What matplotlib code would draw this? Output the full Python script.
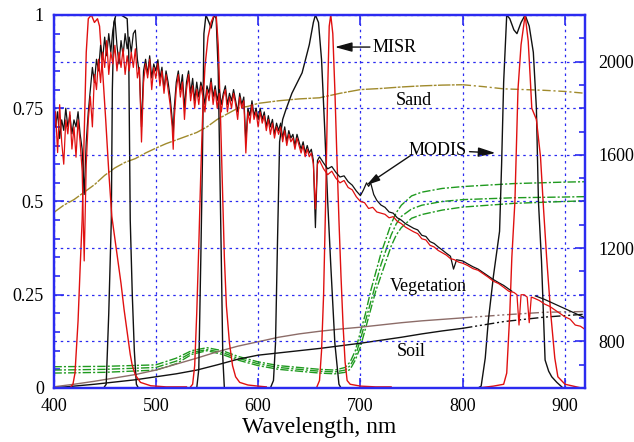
import matplotlib.pyplot as plt
from matplotlib.ticker import MultipleLocator

plt.rcParams['font.family'] = ['Liberation Serif', 'DejaVu Serif']

BLUE = '#2b2bf0'
RED = '#e01010'
BLACK = '#111111'
GREEN = '#1f9a1f'
OLIVE = '#a08a2c'
BROWN = '#8c6c68'

# solar irradiance seen through the two instruments (right axis)
sun_wl_a = [400, 402, 404, 406, 408, 410, 412, 414, 416, 418, 420, 422, 424, 426, 428, 430,
            432, 434, 436, 438, 440, 442, 444, 446, 448, 450, 452, 454, 456, 458, 460, 462,
            464, 466, 468, 470, 472, 474, 476, 478, 480, 482, 484, 486, 488, 490, 492, 494,
            496, 498]
sun_wl_b = [500, 502, 504, 506, 508, 510, 512, 514, 516, 517, 518, 520, 522, 524, 526, 528,
            530, 532, 534, 536, 538, 540, 542, 544, 546, 548, 550, 552, 554, 556, 558, 560,
            562, 564, 566, 568, 570, 572, 574, 576, 578, 580, 582, 584, 586, 588, 590, 592,
            594, 596, 598, 600, 602, 604, 606, 608, 610, 612, 614, 616, 618, 620, 622, 624,
            626, 628, 630, 632, 634, 636, 638, 640, 642, 644, 646, 648, 650, 652, 654, 656,
            658, 660]

misr_sun_a = [1655, 1785, 1610, 1815, 1655, 1560, 1750, 1690, 1785, 1625, 1720, 1590, 1750, 1655, 1530, 1145,
              1560, 1750, 1850, 1720, 1945, 1880, 2010, 1910, 2040, 1975, 2090, 1945, 2040, 1990, 2070, 1960,
              2040, 1975, 2055, 1945, 2025, 1960, 2040, 1975, 2055, 1930, 1975, 1655, 1910, 1990, 1930, 2010,
              1880, 1975]
misr_sun_b = [1928, 1992, 1896, 1960, 1864, 1944, 1880, 1816, 1720, 1624, 1752, 1880, 1944, 1848, 1912, 1752,
              1880, 1944, 1832, 1896, 1800, 1880, 1816, 1896, 1848, 1784, 1880, 1832, 1912, 1816, 1880, 1800,
              1864, 1784, 1848, 1880, 1784, 1848, 1800, 1864, 1816, 1752, 1848, 1800, 1832, 1608, 1784, 1736,
              1816, 1752, 1784, 1720, 1784, 1736, 1768, 1704, 1752, 1688, 1736, 1672, 1720, 1688, 1720, 1656,
              1704, 1640, 1688, 1656, 1672, 1624, 1672, 1640, 1608, 1640, 1592, 1624, 1592, 1608, 1560, 1368,
              1560, 1576]
misr_sun_wl_c = [664, 668, 672, 676, 680, 684, 688, 692, 696, 700, 704, 708, 712, 716, 720, 724,
                 728, 732, 736, 740, 744, 748, 752, 756, 760, 764, 768, 772, 776, 780, 784, 788,
                 792, 796, 800, 805, 810, 815, 820, 825, 830, 835, 840, 845, 850, 853, 855, 857,
                 860, 863, 865, 867, 870, 875, 880, 885, 890, 895, 900, 905, 910, 915, 920]
misr_sun_c = [1540, 1515, 1530, 1500, 1480, 1490, 1460, 1450, 1420, 1400, 1395, 1370, 1375, 1355, 1350, 1345,
              1330, 1335, 1315, 1305, 1290, 1280, 1270, 1262, 1240, 1235, 1212, 1205, 1190, 1180, 1170, 1155,
              1150, 1140, 1135, 1125, 1112, 1105, 1090, 1075, 1058, 1048, 1032, 1015, 1010, 1000, 870, 1000,
              1000, 990, 880, 990, 985, 975, 960, 950, 935, 920, 905, 895, 870, 865, 850]

modis_sun_a = [1880, 1720, 1785, 1670, 1750, 1705, 1800, 1720, 1770, 1690, 1750, 1720, 1785, 1690, 1625, 1430,
               1655, 1785, 1880, 1975, 1910, 2010, 1960, 2070, 2010, 2105, 2025, 2120, 2040, 2135, 2185, 2070,
               1990, 2090, 2025, 2120, 2055, 2105, 2040, 2120, 2135, 2010, 1945, 1720, 1960, 2010, 1945, 2025,
               1930, 1990]
modis_sun_b = [1960, 2008, 1928, 1976, 1880, 1960, 1912, 1848, 1752, 1688, 1800, 1912, 1960, 1880, 1944, 1800,
               1912, 1960, 1864, 1928, 1832, 1912, 1848, 1912, 1880, 1816, 1896, 1864, 1928, 1848, 1896, 1832,
               1880, 1816, 1864, 1896, 1816, 1864, 1832, 1880, 1832, 1784, 1864, 1816, 1848, 1656, 1800, 1768,
               1832, 1768, 1800, 1752, 1800, 1752, 1784, 1720, 1768, 1720, 1752, 1688, 1736, 1704, 1736, 1672,
               1720, 1656, 1704, 1672, 1688, 1640, 1688, 1656, 1624, 1656, 1608, 1640, 1608, 1624, 1576, 1288,
               1576, 1592]
modis_sun_wl_c = [664, 668, 672, 676, 680, 684, 688, 692, 696, 700, 703, 706, 708, 710, 713, 716,
                  720, 724, 728, 732, 736, 740, 744, 748, 752, 756, 760, 764, 768, 772, 776, 780,
                  784, 788, 791, 794, 800, 805, 810, 815, 820, 825, 830, 835, 840, 848]
modis_sun_c = [1565, 1540, 1550, 1525, 1505, 1510, 1485, 1470, 1445, 1425, 1450, 1480, 1465, 1480, 1430, 1405,
               1385, 1375, 1355, 1350, 1330, 1320, 1305, 1295, 1285, 1278, 1255, 1250, 1228, 1220, 1205, 1192,
               1178, 1165, 1110, 1150, 1145, 1132, 1120, 1110, 1095, 1080, 1065, 1052, 1040, 1015]
modis_sun_tail_wl = [871, 880, 890, 900, 910, 920]
modis_sun_tail = [995, 980, 960, 940, 920, 900]

# spectral response functions (left axis)
modis_b3_wl = [449, 451.5, 454, 456.5, 457.5, 459, 461, 466, 472, 473.5, 475, 477, 479, 481, 483]
modis_b3 = [0.0, 0.01, 0.2, 0.45, 0.8, 0.98, 1.0, 1.0, 0.99, 0.9, 0.45, 0.25, 0.1, 0.01, 0.0]
modis_b4_wl = [540, 542, 544, 545.5, 547, 549, 552, 554, 557, 559, 561, 562.5, 564, 565.5, 567]
modis_b4 = [0.0, 0.05, 0.35, 0.6, 0.95, 1.0, 0.98, 0.965, 1.0, 0.99, 0.85, 0.6, 0.35, 0.08, 0.0]
modis_b1_wl = [612, 615, 617, 619, 621, 624, 627, 633, 643, 650, 654, 656, 659, 662, 665, 668,
               671, 675, 679, 681]
modis_b1 = [0.0, 0.02, 0.12, 0.4, 0.66, 0.72, 0.745, 0.79, 0.845, 0.92, 0.98, 1.0, 0.98, 0.88, 0.7, 0.5,
            0.33, 0.12, 0.01, 0.0]
modis_b2_wl = [815, 818, 822, 825, 830, 833, 836, 838, 840, 843, 846, 850, 853, 857, 861, 865, 869,
               872, 874, 877, 880.5, 884, 887, 892, 898]
modis_b2 = [0.0, 0.005, 0.08, 0.18, 0.3, 0.36, 0.42, 0.6, 0.82, 1.0, 0.99, 0.96, 0.95, 0.98, 1.0, 0.97, 0.9,
            0.75, 0.5, 0.34, 0.075, 0.045, 0.03, 0.015, 0.0]

misr_blue_wl = [416, 419, 421, 424, 426, 428, 430, 432, 434, 437, 440, 443, 445, 448, 451, 454, 457,
                460, 463, 466, 469, 472, 475, 477, 480, 485, 495, 510, 530]
misr_blue = [0.0, 0.01, 0.04, 0.18, 0.32, 0.45, 0.68, 0.9, 0.99, 1.0, 0.98, 0.99, 0.97, 0.85, 0.72, 0.58, 0.46,
             0.40, 0.34, 0.28, 0.21, 0.15, 0.09, 0.06, 0.035, 0.015, 0.006, 0.003, 0.003]
misr_green_wl = [533, 536, 538, 540, 542, 544, 546, 548, 551, 554, 557, 559, 561, 563, 565, 567, 569,
                 572, 575, 578, 582, 590, 600, 608]
misr_green = [0.0, 0.01, 0.06, 0.2, 0.38, 0.58, 0.75, 0.86, 0.94, 0.98, 1.0, 1.0, 0.92, 0.75, 0.55, 0.35, 0.22,
              0.12, 0.06, 0.03, 0.015, 0.008, 0.005, 0.003]
misr_red_wl = [657, 660, 662, 664, 666, 668, 669.5, 671, 673, 675, 677, 679, 681, 683, 685, 687, 690,
               700, 715, 730]
misr_red = [0.0, 0.02, 0.1, 0.25, 0.5, 0.8, 0.97, 1.0, 0.95, 0.8, 0.62, 0.45, 0.3, 0.17, 0.07, 0.02, 0.01,
            0.005, 0.003, 0.003]
misr_nir_wl = [815, 830, 840, 843, 846, 848, 851, 854, 857, 861, 864, 866, 867.5, 872, 876, 879, 882,
               886, 890, 893, 900, 916]
misr_nir = [0.0, 0.005, 0.01, 0.04, 0.2, 0.35, 0.5, 0.8, 0.92, 1.0, 0.93, 0.83, 0.75, 0.72, 0.62, 0.48, 0.35,
            0.2, 0.08, 0.03, 0.01, 0.0]

# surface reflectances (left axis)
sand_wl = [400, 410, 420, 430, 440, 450, 460, 470, 480, 490, 500, 510, 520, 530, 540, 550, 560,
           570, 580, 590, 600, 620, 640, 660, 680, 700, 720, 740, 760, 780, 800, 820, 840, 860,
           880, 900, 920]
sand = [0.47, 0.49, 0.505, 0.525, 0.545, 0.57, 0.59, 0.605, 0.615, 0.63, 0.643, 0.655, 0.665, 0.675,
        0.685, 0.70, 0.72, 0.735, 0.75, 0.755, 0.763, 0.77, 0.775, 0.778, 0.79, 0.80, 0.803, 0.807,
        0.81, 0.812, 0.813, 0.808, 0.802, 0.80, 0.798, 0.795, 0.79]

veg_wl = [400, 450, 500, 520, 535, 550, 565, 580, 600, 620, 640, 660, 675, 685, 690, 695, 700, 705,
          710, 715, 720, 725, 730, 735, 740, 750, 760, 780, 800, 850, 900, 920]
veg_1 = [0.057, 0.058, 0.062, 0.08, 0.10, 0.108, 0.1, 0.085, 0.07, 0.06, 0.055, 0.05, 0.048, 0.055,
         0.07, 0.10, 0.15, 0.20, 0.26, 0.31, 0.36, 0.40, 0.44, 0.47, 0.49, 0.515, 0.525, 0.535, 0.54,
         0.548, 0.552, 0.553]
veg_2 = [0.048, 0.05, 0.055, 0.072, 0.095, 0.103, 0.095, 0.08, 0.065, 0.055, 0.05, 0.045, 0.043, 0.048,
         0.06, 0.085, 0.13, 0.18, 0.23, 0.28, 0.33, 0.37, 0.41, 0.44, 0.46, 0.48, 0.49, 0.50, 0.505,
         0.51, 0.512, 0.513]
veg_3 = [0.04, 0.042, 0.048, 0.065, 0.09, 0.10, 0.09, 0.075, 0.06, 0.05, 0.045, 0.04, 0.038, 0.042,
         0.05, 0.075, 0.11, 0.16, 0.21, 0.26, 0.30, 0.34, 0.38, 0.41, 0.43, 0.455, 0.465, 0.477, 0.485,
         0.495, 0.50, 0.502]

soil_wl = [400, 420, 440, 460, 480, 500, 520, 540, 560, 580, 600, 620, 640, 660, 680, 700, 720, 740,
           760, 780, 800, 840, 880, 920]
soil_1 = [0.003, 0.01, 0.018, 0.027, 0.036, 0.048, 0.064, 0.08, 0.097, 0.112, 0.124, 0.136, 0.145,
          0.152, 0.158, 0.163, 0.169, 0.175, 0.18, 0.184, 0.188, 0.196, 0.203, 0.205]
soil_2 = [0.0, 0.005, 0.01, 0.016, 0.022, 0.03, 0.038, 0.048, 0.062, 0.077, 0.088, 0.094, 0.1, 0.106,
          0.113, 0.12, 0.128, 0.136, 0.145, 0.153, 0.16, 0.178, 0.19, 0.198]

fig = plt.figure(figsize=(6.34, 4.42), dpi=100)
ax = fig.add_axes([0.0844, 0.1222, 0.8391, 0.8439])
ax2 = ax.twinx()

# surfaces
n_sand = sand_wl.index(800) + 1
ax.plot(sand_wl[:n_sand], sand[:n_sand], color=OLIVE, lw=1.0, ls=(0, (9, 1, 2, 1)))
ax.plot(sand_wl[n_sand - 1:], sand[n_sand - 1:], color=OLIVE, lw=1.0, ls=(0, (6, 2, 1.5, 2)))
for v in (veg_1, veg_2, veg_3):
    ax.plot(veg_wl, v, color=GREEN, lw=1.0, ls=(0, (6, 1.5, 1.5, 1.5)))
n_soil = soil_wl.index(800) + 1
for v, c in ((soil_1, BROWN), (soil_2, BLACK)):
    ax.plot(soil_wl[:n_soil], v[:n_soil], color=c, lw=1.0)
    ax.plot(soil_wl[n_soil - 1:], v[n_soil - 1:], color=c, lw=1.0, ls=(0, (7, 2, 1.5, 2, 1.5, 2)))

# band responses
for wl, r in ((modis_b3_wl, modis_b3), (modis_b4_wl, modis_b4),
              (modis_b1_wl, modis_b1), (modis_b2_wl, modis_b2)):
    ax.plot(wl, r, color=BLACK, lw=1.0)
for wl, r in ((misr_blue_wl, misr_blue), (misr_green_wl, misr_green),
              (misr_red_wl, misr_red), (misr_nir_wl, misr_nir)):
    ax.plot(wl, r, color=RED, lw=1.0)

# solar spectra
ax2.plot(sun_wl_a + sun_wl_b + modis_sun_wl_c, modis_sun_a + modis_sun_b + modis_sun_c,
         color=BLACK, lw=0.9)
ax2.plot(modis_sun_tail_wl, modis_sun_tail, color=BLACK, lw=0.9)
ax2.plot(sun_wl_a + sun_wl_b + misr_sun_wl_c, misr_sun_a + misr_sun_b + misr_sun_c,
         color=RED, lw=0.9)

ax.set_xlim(400, 920)
ax.set_ylim(0, 1)
ax2.set_ylim(600, 2200)

ax.xaxis.set_major_locator(MultipleLocator(100))
ax.yaxis.set_minor_locator(MultipleLocator(0.05))
ax.set_yticks([0, 0.25, 0.5, 0.75, 1], ['0', '0.25', '0.5', '0.75', '1'])
ax2.set_yticks([800, 1200, 1600, 2000])
ax2.yaxis.set_minor_locator(MultipleLocator(100))

ax.tick_params(which='both', direction='in', top=True, right=False, color=BLUE,
               labelsize=13, pad=7, width=1.2)
ax.tick_params(which='major', length=7)
ax.tick_params(which='minor', length=4.5)
ax2.tick_params(which='both', direction='in', color=BLUE, labelsize=13, pad=9, width=1.2)
ax2.tick_params(which='major', length=7)
ax2.tick_params(which='minor', length=4.5)

grid_style = dict(color=BLUE, ls=(0, (2, 3)), lw=0.9)
ax.grid(True, which='major', **grid_style)
ax2.grid(True, which='major', axis='y', **grid_style)
ax.set_axisbelow(True)

for a in (ax, ax2):
    for s in a.spines.values():
        s.set_color(BLUE)
        s.set_linewidth(1.6)

ax.set_xlabel('Wavelength, nm', fontsize=17, labelpad=2)

arrow = dict(arrowstyle='-|>,head_length=0.8,head_width=0.22', color=BLACK, lw=1.0, shrinkA=0, shrinkB=0)
ax.annotate('MISR', xy=(675, 0.914), xytext=(712, 0.914), fontsize=13, va='center', ha='left',
            arrowprops=arrow)
ax.annotate('', xy=(706, 0.544), xytext=(750, 0.625), arrowprops=arrow)
ax.annotate('MODIS', xy=(832, 0.63), xytext=(775.5, 0.638), fontsize=13, va='center', ha='center',
            arrowprops=dict(arrow, shrinkA=28))
ax.text(752, 0.772, 'Sand', fontsize=13, ha='center', va='center')
ax.text(766, 0.273, 'Vegetation', fontsize=13, ha='center', va='center')
ax.text(750, 0.097, 'Soil', fontsize=13, ha='center', va='center')

fig.savefig('out.png', dpi=100)
